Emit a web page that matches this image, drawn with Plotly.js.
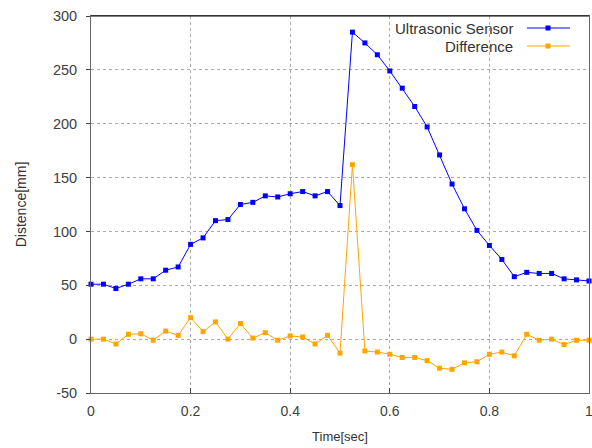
<!DOCTYPE html>
<html>
<head>
<meta charset="utf-8">
<script src="https://cdn.plot.ly/plotly-3.0.1.min.js"></script>
<style>html,body{margin:0;padding:0;background:#fff;}#chart{width:592px;height:448px;}</style>
</head>
<body>
<div id="chart"></div>
<script>
const time = [0,0.025,0.05,0.075,0.1,0.125,0.15,0.175,0.2,0.225,0.25,0.275,0.3,0.325,0.35,0.375,0.4,0.425,0.45,0.475,0.5,0.525,0.55,0.575,0.6,0.625,0.65,0.675,0.7,0.725,0.75,0.775,0.8,0.825,0.85,0.875,0.9,0.925,0.95,0.975,1.0];
const ultrasonic = [51,51,47,51,56,56,64,67,88,94,110,111,125,127,133,132,135,137,133,137,124,285,275,264,249,233,216,197,171,144,121,101,87,74,58,62,61,61,56,55,54];
const difference = [0,0,-4.5,4.5,5,-1,7.5,3.5,20,7,16,0,14.5,1,6,-1,3,2,-4.5,3.5,-13,162,-11,-12,-14,-17,-17,-20,-27,-28,-22,-21,-14,-12,-15.5,4.5,-1,0,-5,-1,-1];
const seriesNames = ['Ultrasonic Sensor','Difference'];
const seriesColors = ['#0000ff','#ffa500'];
const xTickVals = [0,0.2,0.4,0.6,0.8,1];
const xTickText = ['0','0.2','0.4','0.6','0.8','1'];
const yTickVals = [-50,0,50,100,150,200,250,300];
const yTickText = ['-50','0','50','100','150','200','250','300'];

const font = 'Liberation Sans, Arial, sans-serif';
const seriesY = [ultrasonic, difference];
const traces = seriesY.map((ys, i) => ({
  x: time, y: ys, type: 'scatter', mode: 'lines+markers', name: seriesNames[i],
  line: {color: seriesColors[i], width: 1},
  marker: {symbol: 'square', size: 5, color: seriesColors[i]},
  showlegend: false, cliponaxis: false
}));

// legend built manually (text left of sample, as in the reference)
const annotations = [];
const shapes = [];
const legendY = [28, 46];
seriesNames.forEach((n, i) => {
  const yp = 1 - (legendY[i] - 16) / 377;
  annotations.push({xref:'paper', yref:'paper', x:(515-91)/498, y:yp, xanchor:'right', yanchor:'middle',
    text:n, showarrow:false, font:{family:font, size:15, color:'#333'}});
  shapes.push({type:'line', xref:'paper', yref:'paper', x0:(527-91)/498, x1:(570-91)/498, y0:yp, y1:yp,
    line:{color:seriesColors[i], width:1}});
  shapes.push({type:'rect', xref:'paper', yref:'paper', xsizemode:'pixel', ysizemode:'pixel',
    xanchor:(548-91)/498, yanchor:yp, x0:-2.5, x1:2.5, y0:-2.5, y1:2.5,
    fillcolor:seriesColors[i], line:{width:0}});
});
shapes.push({type:'line', xref:'paper', yref:'paper', x0:0, x1:1, y0:1, y1:1, line:{color:'#000', width:1}});

const layout = {
  width: 592, height: 448,
  margin: {l: 91, r: 3, t: 16, b: 55},
  paper_bgcolor: '#fff', plot_bgcolor: '#fff',
  font: {family: font, size: 14, color: '#404040'},
  xaxis: {
    range: [0, 1], tickvals: xTickVals, ticktext: xTickText,
    showgrid: true, gridcolor: '#aaa', griddash: 'dot', gridwidth: 1,
    zeroline: false, showline: true, linecolor: '#666', linewidth: 1, mirror: true,
    ticks: 'inside', ticklen: 5, tickcolor: '#444', ticklabelstandoff: 5,
    ticklabeloverflow: 'allow',
    tickfont: {family: font, size: 14, color: '#404040'},
    title: {text: 'Time[sec]', font: {family: font, size: 13, color: '#333'}, standoff: 14}
  },
  yaxis: {
    range: [-50, 300], tickvals: yTickVals, ticktext: yTickText,
    showgrid: true, gridcolor: '#aaa', griddash: 'dot', gridwidth: 1,
    zeroline: false, showline: true, linecolor: '#666', linewidth: 1, mirror: true,
    ticks: 'outside', ticklen: 4, tickcolor: '#444', ticklabelstandoff: 6,
    ticklabeloverflow: 'allow',
    tickfont: {family: font, size: 14.5, color: '#404040'},
    title: {text: 'Distence[mm]', font: {family: font, size: 14, color: '#333'}, standoff: 22}
  },
  annotations: annotations,
  shapes: shapes
};

Plotly.newPlot('chart', traces, layout, {displayModeBar: false, staticPlot: true});
</script>
</body>
</html>
